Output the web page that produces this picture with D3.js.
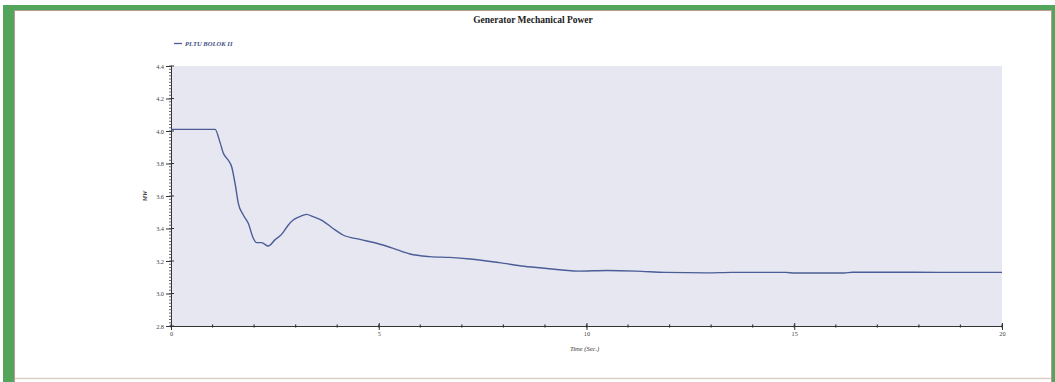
<!DOCTYPE html>
<html>
<head>
<meta charset="utf-8">
<script src="https://cdn.jsdelivr.net/npm/d3@7"></script>
<style>
  html, body { margin: 0; padding: 0; background: #ffffff; }
  svg { display: block; }
</style>
</head>
<body>
<svg id="chart" width="1055" height="382"></svg>
<script>
// Generator mechanical power response (MW) over time (s)
const timeSec = [0, 1.06, 1.18, 1.26, 1.38, 1.46, 1.54, 1.62, 1.74, 1.86, 1.98, 2.06, 2.18, 2.34, 2.5, 2.66, 2.82, 2.94, 3.1, 3.26, 3.42, 3.66, 3.9, 4.14, 4.55, 4.95, 5.35, 5.75, 6.23, 6.7, 7.2, 7.9, 8.5, 9.0, 9.8, 10.5, 11.2, 11.9, 12.9, 13.5, 14.8, 15.0, 16.2, 16.4, 17.3, 18.5, 20];
const powerMW = [4.01, 4.01, 3.93, 3.863, 3.82, 3.78, 3.68, 3.555, 3.483, 3.432, 3.34, 3.313, 3.313, 3.292, 3.33, 3.364, 3.42, 3.452, 3.473, 3.487, 3.473, 3.446, 3.40, 3.36, 3.333, 3.309, 3.278, 3.243, 3.227, 3.222, 3.212, 3.19, 3.168, 3.155, 3.138, 3.142, 3.138, 3.13, 3.127, 3.13, 3.13, 3.126, 3.126, 3.131, 3.131, 3.13, 3.13];
const yTicks = [2.8, 3.0, 3.2, 3.4, 3.6, 3.8, 4.0, 4.2, 4.4];
const xTicks = [0, 5, 10, 15, 20];
const seriesName = "PLTU BOLOK II";
const chartTitle = "Generator Mechanical Power";
const yTitle = "MW";
const xTitle = "Time (Sec.)";

const svg = d3.select("#chart");
const W = 1055, H = 382;
const plot = { left: 171, right: 1002, top: 66, bottom: 326 };

const x = d3.scaleLinear().domain([0, 20]).range([plot.left, plot.right]);
const y = d3.scaleLinear().domain([2.8, 4.4]).range([plot.bottom, plot.top]);

const serif = "'Liberation Serif', 'DejaVu Serif', serif";
const lineColor = "#4b5d96";

// page frame: thick green on the left, thinner on top and right
svg.append("rect").attr("x", 0).attr("y", 0).attr("width", W).attr("height", H).attr("fill", "#ffffff");
svg.append("rect").attr("x", 3).attr("y", 5).attr("width", 1052).attr("height", 377).attr("fill", "#52a55a");
svg.append("rect").attr("x", 14).attr("y", 10).attr("width", 1038).attr("height", 372).attr("fill", "#b79a92");
svg.append("rect").attr("x", 15).attr("y", 11).attr("width", 1036).attr("height", 371).attr("fill", "#ffffff");
svg.append("line").attr("x1", 15).attr("x2", 1051).attr("y1", 378.5).attr("y2", 378.5)
  .attr("stroke", "#d9cfc6").attr("stroke-width", 1.5);

// plot background
svg.append("rect")
  .attr("x", plot.left).attr("y", plot.top)
  .attr("width", plot.right - plot.left).attr("height", plot.bottom - plot.top)
  .attr("fill", "#e7e7f2");

// title
svg.append("text")
  .attr("x", 533).attr("y", 23)
  .attr("text-anchor", "middle")
  .attr("font-family", serif).attr("font-weight", "bold").attr("font-size", 9.5)
  .attr("fill", "#222")
  .text(chartTitle);

// legend
svg.append("line")
  .attr("x1", 174).attr("x2", 182).attr("y1", 43.5).attr("y2", 43.5)
  .attr("stroke", lineColor).attr("stroke-width", 1.3);
svg.append("text")
  .attr("x", 185).attr("y", 46)
  .attr("font-family", serif).attr("font-style", "italic").attr("font-weight", "bold").attr("font-size", 6.6)
  .attr("fill", "#3f4f86")
  .text(seriesName);

// y axis with major and minor ticks
const yAxis = d3.axisLeft(y).tickValues(yTicks).tickFormat(d3.format(".1f")).tickSize(5).tickPadding(2);
const gy = svg.append("g").attr("transform", `translate(${plot.left},0)`).call(yAxis);
gy.select(".domain").attr("stroke", "#333");
gy.selectAll(".tick line").attr("stroke", "#333");
gy.selectAll(".tick text").attr("font-family", serif).attr("font-size", 6.3).attr("fill", "#444");
const yMinor = d3.range(2.8, 4.4001, 0.02).map(v => +v.toFixed(2));
svg.append("g").selectAll("line").data(yMinor).join("line")
  .attr("x1", plot.left - 2).attr("x2", plot.left + 1)
  .attr("y1", d => y(d)).attr("y2", d => y(d))
  .attr("stroke", "#444").attr("stroke-width", 0.8);
// short inward ticks at major values
svg.append("g").selectAll("line").data(yTicks).join("line")
  .attr("x1", plot.left).attr("x2", plot.left + 3)
  .attr("y1", d => y(d)).attr("y2", d => y(d))
  .attr("stroke", "#333");

// x axis
const xAxis = d3.axisBottom(x).tickValues(xTicks).tickFormat(d3.format("d")).tickSize(4).tickPadding(2);
const gx = svg.append("g").attr("transform", `translate(0,${plot.bottom})`).call(xAxis);
gx.select(".domain").attr("stroke", "#333");
gx.selectAll(".tick line").attr("stroke", "#333").attr("y1", -3);
gx.selectAll(".tick text").attr("font-family", serif).attr("font-size", 6.3).attr("fill", "#444");
const xMinor = d3.range(0, 20.001, 1);
svg.append("g").selectAll("line").data(xMinor).join("line")
  .attr("x1", d => x(d)).attr("x2", d => x(d))
  .attr("y1", plot.bottom - 1.5).attr("y2", plot.bottom + 1.5)
  .attr("stroke", "#333").attr("stroke-width", 1.2);

// axis titles
svg.append("text")
  .attr("transform", `translate(147,${(plot.top + plot.bottom) / 2}) rotate(-90)`)
  .attr("text-anchor", "middle")
  .attr("font-family", serif).attr("font-style", "italic").attr("font-weight", "bold").attr("font-size", 6)
  .attr("fill", "#333")
  .text(yTitle);
svg.append("text")
  .attr("x", 570).attr("y", 351)
  .attr("font-family", serif).attr("font-style", "italic").attr("font-size", 6.5)
  .attr("fill", "#333")
  .text(xTitle);

// data line
const pts = timeSec.map((t, i) => [t, powerMW[i]]);
const line = d3.line().x(d => x(d[0])).y(d => y(d[1])).curve(d3.curveMonotoneX);
svg.append("path")
  .datum(pts)
  .attr("d", line)
  .attr("fill", "none")
  .attr("stroke", lineColor)
  .attr("stroke-width", 1.4);
</script>
</body>
</html>
